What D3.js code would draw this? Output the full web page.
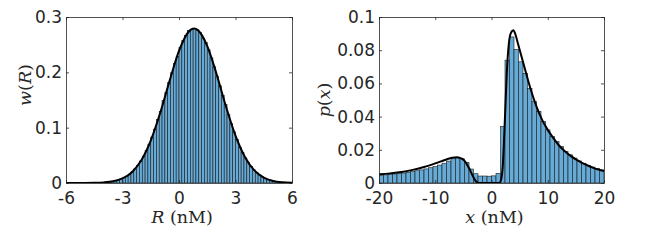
<!DOCTYPE html>
<html>
<head>
<meta charset="utf-8">
<script src="https://cdn.jsdelivr.net/npm/d3@7"></script>
<style>
body { margin: 0; background: #fff; }
svg { display: block; }
.tick text { font-family: "DejaVu Sans", sans-serif; font-size: 17px; fill: #262626; }
.axis path, .axis line { stroke: #262626; stroke-width: 0.8; }
.label { font-family: "DejaVu Serif", serif; font-size: 17.5px; fill: #262626; }
</style>
</head>
<body>
<svg id="chart" width="647" height="241"></svg>
<script>
// left panel, w(R)
var wBinStart = -4.2
var wBinWidth = 0.15
var wBars = [
    0.0007, 0.0011, 0.0015, 0.0021, 0.0029, 0.0039, 0.0053, 0.0071, 0.0094, 0.0123,
    0.0159, 0.0203, 0.0256, 0.0321, 0.0397, 0.0485, 0.0587, 0.0703, 0.0831, 0.0973,
    0.1150, 0.1291, 0.1490, 0.1639, 0.1816, 0.1991, 0.2158, 0.2290, 0.2454, 0.2574,
    0.2669, 0.2760, 0.2779, 0.2790, 0.2769, 0.2719, 0.2620, 0.2536, 0.2408, 0.2263,
    0.2101, 0.1933, 0.1757, 0.1580, 0.1420, 0.1236, 0.1075, 0.0925, 0.0787, 0.0640,
    0.0552, 0.0454, 0.0370, 0.0298, 0.0237, 0.0187, 0.0146, 0.0112, 0.0086, 0.0065,
    0.0048, 0.0035, 0.0026, 0.0019, 0.0013, 0.0009
]
var wCurveR = [-6, -5, -4.5, -4, -3.5, -3, -2.5, -2, -1.5, -1, -0.5, 0, 0.5, 0.8, 1, 1.5, 2, 2.5, 3, 3.5, 4, 4.5, 5, 5.5, 6]
var wCurveY = [0, 0.0001, 0.0003, 0.001, 0.003, 0.0082, 0.0195, 0.041, 0.0766, 0.1264, 0.1846, 0.2386, 0.2729, 0.279,
    0.2763, 0.2475, 0.1962, 0.1376, 0.0855, 0.047, 0.0228, 0.0098, 0.0037, 0.0013, 0.0004]
var wTicksX = [-6, -3, 0, 3, 6]
var wTicksY = [0, 0.1, 0.2, 0.3]

// right panel, p(x)
var pBinStart = -20
var pBinWidth = 0.8
var pBars = [
    0.0047, 0.0049, 0.0051, 0.0054, 0.0057, 0.0060, 0.0064, 0.0069, 0.0074, 0.0079,
    0.0085, 0.0092, 0.0099, 0.0108, 0.0119, 0.0132, 0.0146, 0.0151, 0.0146, 0.0124,
    0.0084, 0.0056, 0.0042, 0.0042, 0.0041, 0.0043, 0.0058, 0.0340, 0.0740, 0.0880,
    0.0805, 0.0730, 0.0660, 0.0570, 0.0490, 0.0430, 0.0370, 0.0320, 0.0280, 0.0250,
    0.0220, 0.0190, 0.0170, 0.0150, 0.0133, 0.0119, 0.0107, 0.0096, 0.0087, 0.0079
]
var pCurveX = [-20, -18, -16, -14, -12, -10, -9, -8, -7, -6.2, -5.5, -5, -4.5, -4, -3.5, -3, -2.6, -2.2,
    1.4, 1.7, 2, 2.4, 2.7, 3, 3.4, 3.9, 4.3, 4.7, 5.1, 6, 7, 8, 9, 10, 11, 12, 13, 14, 15, 16, 17, 18, 19, 20]
var pCurveY = [0.0052, 0.0058, 0.0066, 0.0079, 0.0096, 0.0118, 0.013, 0.0142, 0.0152, 0.0155, 0.015, 0.014, 0.012, 0.009,
    0.0055, 0.0022, 0.0005, 0, 0, 0.002, 0.01, 0.04, 0.065, 0.081, 0.09, 0.092, 0.089, 0.084, 0.079, 0.068, 0.056,
    0.046, 0.038, 0.032, 0.027, 0.0226, 0.0193, 0.0165, 0.0142, 0.0123, 0.0107, 0.0093, 0.0081, 0.0072]
var pTicksX = [-20, -10, 0, 10, 20]
var pTicksY = [0, 0.02, 0.04, 0.06, 0.08, 0.1]

var svg = d3.select("#chart")
const top_y = 17, bottom_y = 183
const tick = 3

function build_panel(p) {
    var xScale = d3.scaleLinear().domain(p.xDomain).range([p.left, p.right])
    var yScale = d3.scaleLinear().domain(p.yDomain).range([bottom_y, top_y])

    svg.append("clipPath").attr("id", "clip_" + p.id)
        .append("rect")
        .attr("x", p.left).attr("y", top_y)
        .attr("width", p.right - p.left).attr("height", bottom_y - top_y)

    var plot = svg.append("g").attr("clip-path", "url(#clip_" + p.id + ")")

    plot.selectAll("rect.bar")
        .data(p.bars).enter()
        .append("rect").attr("class", "bar")
        .attr("x", (d, i) => xScale(p.binStart + i * p.binWidth))
        .attr("width", (d, i) => xScale(p.binStart + (i + 1) * p.binWidth) - xScale(p.binStart + i * p.binWidth))
        .attr("y", d => yScale(d))
        .attr("height", d => yScale(0) - yScale(d))
        .attr("fill", "#66aad7")
        .attr("stroke", "#1a1a1a")
        .attr("stroke-width", 0.6)

    var pts = p.curveX.map((v, i) => [v, p.curveY[i]])
    plot.append("path")
        .datum(pts)
        .attr("fill", "none")
        .attr("stroke", "#000")
        .attr("stroke-width", 2)
        .attr("d", d3.line()
            .x(d => xScale(d[0]))
            .y(d => yScale(d[1]))
            .curve(d3.curveMonotoneX))

    svg.append("g").attr("class", "axis")
        .attr("transform", "translate(0," + bottom_y + ")")
        .call(d3.axisBottom(xScale).tickValues(p.ticksX).tickSizeInner(-tick).tickSizeOuter(0)
            .tickPadding(9).tickFormat(d => String(d)))
    svg.append("g").attr("class", "axis")
        .attr("transform", "translate(0," + top_y + ")")
        .call(d3.axisTop(xScale).tickValues(p.ticksX).tickSizeInner(-tick).tickSizeOuter(0).tickFormat(""))
    svg.append("g").attr("class", "axis")
        .attr("transform", "translate(" + p.left + ",0)")
        .call(d3.axisLeft(yScale).tickValues(p.ticksY).tickSizeInner(-tick).tickSizeOuter(0)
            .tickPadding(4).tickFormat(d => String(d)))
    svg.append("g").attr("class", "axis")
        .attr("transform", "translate(" + p.right + ",0)")
        .call(d3.axisRight(yScale).tickValues(p.ticksY).tickSizeInner(-tick).tickSizeOuter(0).tickFormat(""))

    // x label
    var xl = svg.append("text").attr("class", "label")
        .attr("x", (p.left + p.right) / 2 + 3).attr("y", 223)
        .attr("text-anchor", "middle")
    xl.append("tspan").attr("font-style", "italic").text(p.xVar)
    xl.append("tspan").text(" (nM)")

    // y label
    var yl = svg.append("text").attr("class", "label")
        .attr("transform", "translate(" + p.yLabelX + "," + p.yLabelY + ") rotate(-90)")
        .attr("text-anchor", "middle")
    yl.append("tspan").attr("font-style", "italic").text(p.yFun)
    yl.append("tspan").text("(")
    yl.append("tspan").attr("font-style", "italic").text(p.xVar)
    yl.append("tspan").text(")")
}

build_panel({
    id: "w", left: 66, right: 292, xDomain: [-6, 6], yDomain: [0, 0.3],
    bars: wBars, binStart: wBinStart, binWidth: wBinWidth,
    curveX: wCurveR, curveY: wCurveY, ticksX: wTicksX, ticksY: wTicksY,
    xVar: "R", yFun: "w", yLabelX: 31, yLabelY: 85
})

build_panel({
    id: "p", left: 379, right: 604, xDomain: [-20, 20], yDomain: [0, 0.1],
    bars: pBars, binStart: pBinStart, binWidth: pBinWidth,
    curveX: pCurveX, curveY: pCurveY, ticksX: pTicksX, ticksY: pTicksY,
    xVar: "x", yFun: "p", yLabelX: 330, yLabelY: 100
})
</script>
</body>
</html>
